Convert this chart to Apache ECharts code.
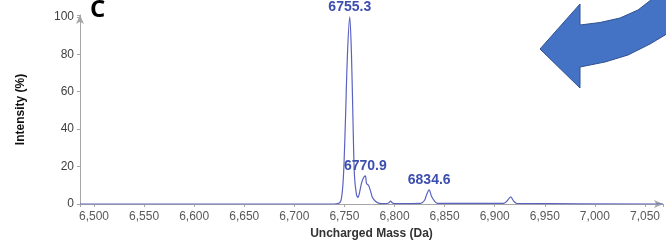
<!DOCTYPE html>
<html>
<head>
<meta charset="utf-8">
<script src="https://cdn.jsdelivr.net/npm/echarts@6/dist/echarts.min.js"></script>
<style>
	html, body { margin: 0; padding: 0; background: #fff; }
	#chartBox { width: 666px; height: 240px; }
</style>
</head>
<body>
<div id="chartBox"></div>
<script>
// spectrum: mass (Da) and intensity (%)
var masses = [6486, 6600, 6700, 6740, 6745, 6747, 6749, 6751, 6753, 6755.3, 6757, 6758.5, 6760, 6762, 6763.5,
	6765, 6767, 6769, 6770.9, 6772, 6774, 6776, 6778, 6781, 6785, 6790, 6794, 6796, 6798, 6800,
	6826, 6830, 6832, 6834.6, 6837, 6840, 6843, 6909, 6912, 6916, 6919, 6922, 7068];
var intensities = [0, 0, 0, 0, 0.5, 3, 15, 45, 80, 100, 80, 45, 15, 5, 3.5,
	6, 11, 14, 15, 11, 10, 7, 3.5, 1.5, 0.3, 0.2, 0.5, 1.5, 0.5, 0.2,
	0.3, 2, 5, 7.5, 4, 1.5, 0.3, 0.3, 1.5, 3.8, 1.5, 0.3, 0];
// labelled peaks
var peakMasses = [6755.3, 6770.9, 6834.6];
var peakValues = [100, 15, 7.5];
var yTicks = [0, 20, 40, 60, 80, 100];

window.addEventListener('load', function() {
	var myChart = echarts.init(document.getElementById('chartBox'));

	var points = [];
	for (var i = 0; i < masses.length; i++) {
		points.push([masses[i], intensities[i]]);
	}
	var marks = [];
	for (var j = 0; j < peakMasses.length; j++) {
		marks.push({ coord: [peakMasses[j], peakValues[j]], value: peakMasses[j].toFixed(1) });
	}

	// big decorative arrow, curved shaft coming from the top right
	var arrowPts = [[540, 49], [580, 4], [580, 25], [600, 22.5], [620, 18], [638, 10], [656, -4],
		[670, -4], [670, 32], [650, 44], [628, 55], [605, 62], [580, 67], [580, 88]];

	var axisGrey = '#a6a6a6';
	var option = {
		animation: false,
		grid: { left: 80, right: 3, top: 15, bottom: 36, outerBoundsMode: 'none' },
		xAxis: {
			type: 'value',
			min: 6486,
			max: 7068,
			splitNumber: 12,
			name: 'Uncharged Mass (Da)',
			nameLocation: 'middle',
			nameGap: 23,
			nameTextStyle: { fontFamily: 'Liberation Sans', fontWeight: 'bold', fontSize: 12, color: '#333' },
			axisLine: { lineStyle: { color: axisGrey }, symbol: ['none', 'arrow'], symbolSize: [6, 9] },
			axisTick: { length: 3, lineStyle: { color: axisGrey } },
			splitLine: { show: false },
			axisLabel: {
				fontFamily: 'Liberation Sans', fontSize: 12, color: '#595959', margin: 7,
				formatter: function(v) {
					if (v % 50 !== 0) return '';
					var s = String(v);
					return s.slice(0, 1) + ',' + s.slice(1);
				}
			}
		},
		yAxis: {
			type: 'value',
			min: 0,
			max: 101,
			interval: 20,
			name: 'Intensity (%)',
			nameLocation: 'middle',
			nameGap: 53,
			nameTextStyle: { fontFamily: 'Liberation Sans', fontWeight: 'bold', fontSize: 12, color: '#111' },
			axisLine: { show: true, lineStyle: { color: axisGrey }, symbol: ['none', 'arrow'], symbolSize: [6, 9] },
			axisTick: { show: true, length: 3, lineStyle: { color: axisGrey } },
			splitLine: { show: false },
			axisLabel: {
				fontFamily: 'Liberation Sans', fontSize: 12, color: '#404040', margin: 6,
				formatter: function(v) { return yTicks.indexOf(v) >= 0 ? String(v) : ''; }
			}
		},
		series: [{
			type: 'line',
			data: points,
			symbol: 'none',
			smooth: 0.3,
			lineStyle: { color: '#5a62c0', width: 1.2 },
			markPoint: {
				symbol: 'circle',
				symbolSize: 1,
				itemStyle: { color: 'transparent' },
				label: {
					show: true,
					position: 'top',
					distance: 2,
					formatter: '{c}',
					fontFamily: 'Liberation Sans',
					fontWeight: 'bold',
					fontSize: 14,
					color: '#3d4fae'
				},
				data: marks
			}
		}],
		graphic: [{
			type: 'text',
			x: 90,
			y: -2,
			style: { text: 'C', font: 'bold 24px "Open Sans"', fill: '#000' }
		}, {
			type: 'polygon',
			shape: { points: arrowPts },
			style: { fill: '#4472c4', stroke: '#2f528f', lineWidth: 1 }
		}]
	};
	myChart.setOption(option);
});
</script>
</body>
</html>
